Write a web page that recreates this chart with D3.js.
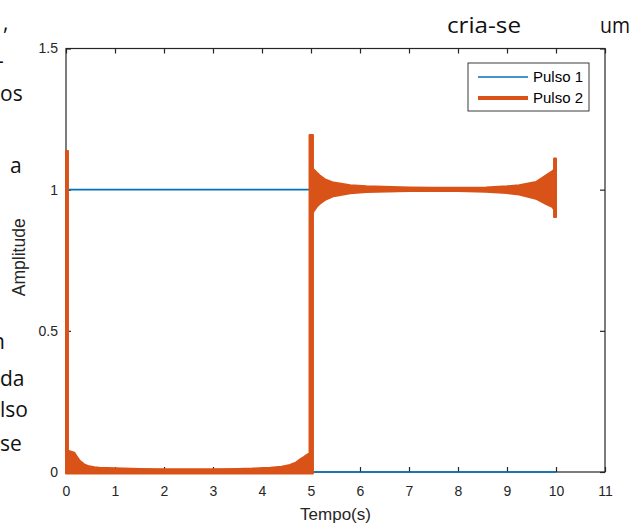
<!DOCTYPE html>
<html>
<head>
<meta charset="utf-8">
<script src="https://cdn.jsdelivr.net/npm/d3@7"></script>
<style>
  html, body { margin: 0; padding: 0; background: #fff; }
  svg { display: block; }
</style>
</head>
<body>
<script>
// Axis ticks
const xTicks = [0, 1, 2, 3, 4, 5, 6, 7, 8, 9, 10, 11];
const yTicks = [0, 0.5, 1, 1.5];

// Pulso 1: ideal rectangular pulse
const pulse1Time  = [0, 5, 5, 10];
const pulse1Value = [1, 1, 0, 0];

// Pulso 2: envelope of the dense ringing signal (upper / lower extremes)
const pulse2Time  = [0, 0.04, 0.04, 0.17, 0.21, 0.27, 0.32, 0.37, 0.47, 0.58, 0.68, 1.0, 1.5, 2.0, 2.5, 3.0, 3.5, 3.8, 4.17, 4.4, 4.57, 4.7, 4.78, 4.86, 4.91, 4.97,
                     4.97, 5.04, 5.04, 5.12, 5.18, 5.3, 5.46, 5.8, 6.13, 7.0, 7.5, 8.0, 8.57, 9.0, 9.25, 9.59, 9.79, 9.93, 9.96, 9.96, 10.0];
const pulse2Upper = [1.137, 1.137, 0.075, 0.068, 0.057, 0.042, 0.034, 0.027, 0.02, 0.017, 0.015, 0.013, 0.011, 0.01, 0.01, 0.01, 0.011, 0.012, 0.015, 0.019, 0.025, 0.034, 0.045, 0.054, 0.06, 0.066,
                     1.194, 1.194, 1.074, 1.06, 1.05, 1.035, 1.025, 1.016, 1.012, 1.008, 1.007, 1.007, 1.008, 1.012, 1.016, 1.027, 1.05, 1.066, 1.07, 1.11, 1.11];
const pulse2Lower = [-0.005, -0.005, -0.005, -0.005, -0.005, -0.005, -0.005, -0.005, -0.005, -0.005, -0.005, -0.005, -0.005, -0.005, -0.005, -0.005, -0.005, -0.005, -0.005, -0.005, -0.005, -0.005, -0.005, -0.005, -0.005, -0.005,
                     -0.005, -0.005, 0.92, 0.94, 0.95, 0.965, 0.977, 0.987, 0.992, 0.995, 0.995, 0.995, 0.993, 0.988, 0.983, 0.968, 0.95, 0.938, 0.93, 0.903, 0.903];

const seriesNames = ["Pulso 1", "Pulso 2"];
const seriesColors = ["#0072BD", "#D95319"];

// Surrounding page text
const pageWords = [
  { text: "cria-se", x: 447, y: 33, len: 74 },
  { text: "um", x: 600, y: 33, len: 30 },
  { text: ",", x: 3, y: 30 },
  { text: "-", x: -3, y: 68 },
  { text: "os", x: 0, y: 101 },
  { text: "a", x: 10, y: 173 },
  { text: "n", x: -8, y: 349 },
  { text: "da", x: 0, y: 386 },
  { text: "lso", x: 0, y: 417 },
  { text: "se", x: 0, y: 451 }
];

const W = 636, H = 524;
const plot = { left: 66, right: 605, top: 48.5, bottom: 472 };
const axisColor = "#262626";
const fontFamily = "'Liberation Sans', Arial, Helvetica, sans-serif";

const svg = d3.select("body").append("svg").attr("width", W).attr("height", H);

// page text
svg.append("g").selectAll("text").data(pageWords).join("text")
  .attr("x", d => d.x).attr("y", d => d.y)
  .attr("font-family", "'Open Sans', 'Noto Sans', sans-serif")
  .attr("font-size", 21)
  .attr("fill", "#111")
  .each(function (d) { if (d.len) d3.select(this).attr("textLength", d.len).attr("lengthAdjust", "spacingAndGlyphs"); })
  .text(d => d.text);

const x = d3.scaleLinear().domain([0, 11]).range([plot.left, plot.right]);
const y = d3.scaleLinear().domain([0, 1.5]).range([plot.bottom, plot.top]);

// axes (drawn beneath the data)
const axes = svg.append("g");
axes.append("rect")
  .attr("x", plot.left).attr("y", plot.top)
  .attr("width", plot.right - plot.left).attr("height", plot.bottom - plot.top)
  .attr("fill", "none").attr("stroke", axisColor).attr("stroke-width", 1.2);

function styleAxis(g, showLabels) {
  g.select(".domain").remove();
  g.selectAll(".tick line").attr("stroke", axisColor).attr("stroke-width", 1.2);
  g.selectAll(".tick text")
    .attr("fill", axisColor)
    .attr("font-family", fontFamily)
    .attr("font-size", 14)
    .style("display", showLabels ? null : "none");
}

axes.append("g").attr("transform", `translate(0,${plot.bottom})`)
  .call(d3.axisBottom(x).tickValues(xTicks).tickFormat(d3.format("d")).tickSizeInner(-5).tickSizeOuter(0).tickPadding(14))
  .call(g => styleAxis(g, true));
axes.append("g").attr("transform", `translate(0,${plot.top})`)
  .call(d3.axisTop(x).tickValues(xTicks).tickSizeInner(-5).tickSizeOuter(0))
  .call(g => styleAxis(g, false));
axes.append("g").attr("transform", `translate(${plot.left},0)`)
  .call(d3.axisLeft(y).tickValues(yTicks).tickFormat(d => String(d)).tickSizeInner(-5).tickSizeOuter(0).tickPadding(8))
  .call(g => styleAxis(g, true));
axes.append("g").attr("transform", `translate(${plot.right},0)`)
  .call(d3.axisRight(y).tickValues(yTicks).tickSizeInner(-5).tickSizeOuter(0))
  .call(g => styleAxis(g, false));

// axis titles
svg.append("text")
  .attr("x", (plot.left + plot.right) / 2).attr("y", 520)
  .attr("text-anchor", "middle")
  .attr("font-family", fontFamily).attr("font-size", 17).attr("fill", axisColor)
  .text("Tempo(s)");
svg.append("text")
  .attr("transform", `translate(25,${(plot.top + plot.bottom) / 2 - 3}) rotate(-90)`)
  .attr("text-anchor", "middle")
  .attr("font-family", fontFamily).attr("font-size", 17.5).attr("fill", axisColor)
  .text("Amplitude");

// Pulso 1
const p1 = pulse1Time.map((t, i) => [t, pulse1Value[i]]);
svg.append("path")
  .datum(p1)
  .attr("d", d3.line().x(d => x(d[0])).y(d => y(d[1])))
  .attr("fill", "none")
  .attr("stroke", seriesColors[0])
  .attr("stroke-width", 1.6);

// Pulso 2 (band of dense oscillation)
const p2 = pulse2Time.map((t, i) => ({ t, hi: pulse2Upper[i], lo: pulse2Lower[i] }));
svg.append("path")
  .datum(p2)
  .attr("d", d3.area().x(d => x(d.t)).y0(d => y(d.lo)).y1(d => y(d.hi)))
  .attr("fill", seriesColors[1])
  .attr("stroke", seriesColors[1])
  .attr("stroke-width", 2)
  .attr("stroke-linejoin", "round");

// legend
const leg = svg.append("g").attr("transform", "translate(468,63)");
leg.append("rect")
  .attr("width", 121).attr("height", 48)
  .attr("fill", "#fff").attr("stroke", axisColor).attr("stroke-width", 0.9);
seriesNames.forEach((name, i) => {
  const yy = 14 + i * 21;
  leg.append("line")
    .attr("x1", 10).attr("x2", 60).attr("y1", yy).attr("y2", yy)
    .attr("stroke", seriesColors[i]).attr("stroke-width", i === 0 ? 1.6 : 4);
  leg.append("text")
    .attr("x", 65).attr("y", yy).attr("dy", "0.35em")
    .attr("font-family", fontFamily).attr("font-size", 15).attr("fill", "#000")
    .text(name);
});
</script>
</body>
</html>
